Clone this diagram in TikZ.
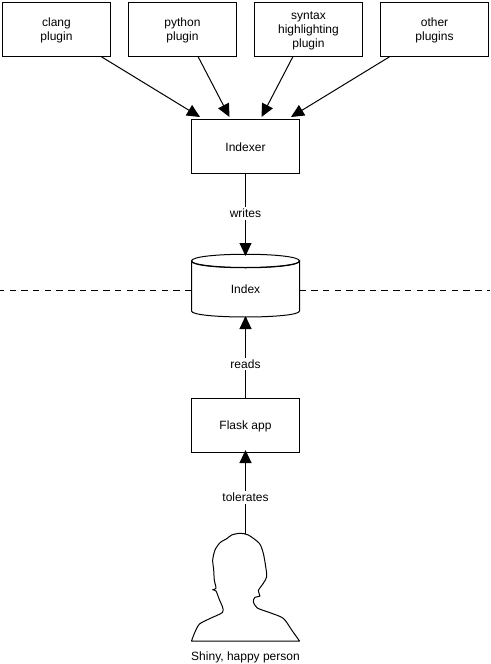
\documentclass[tikz,border=0pt]{standalone}
\usepackage{fontspec}
\setmainfont{Liberation Sans}
\usetikzlibrary{arrows.meta,calc}
\newcommand{\topstrut}[1]{\rule{0pt}{#1pt}}
\tikzset{
  x=1pt,y=-1pt,
  every path/.style={line width=1pt},
  box/.style={draw=black,fill=white,minimum width=108pt,minimum height=54pt,inner sep=0pt,align=center,font=\fontsize{12}{14}\selectfont},
  plain/.style={inner sep=0pt,align=center,font=\fontsize{12}{14}\selectfont},
  elabel/.style={fill=white,inner sep=2pt,font=\fontsize{12}{14}\selectfont},
  conn/.style={draw=black,-{Triangle[length=13pt,width=12pt]}},
  divider/.style={draw=black,dash pattern=on 6.5pt off 5.2pt}
}
\begin{document}
\begin{tikzpicture}
\useasboundingbox (0,0) rectangle (490,664);
\fill[white] (0,0) rectangle (490,664);
\node[box] (clang) at (56.5,29) {\topstrut{11}clang\\plugin};
\node[box] (python) at (182.5,29) {\topstrut{11}python\\plugin};
\node[box] (syntax) at (308.5,29) {\topstrut{12}syntax\\highlighting\\plugin};
\node[box] (other) at (434.5,29) {\topstrut{11}other\\plugins};
\node[box] (indexer) at (245.5,146) {\topstrut{11}Indexer};
\node[box] (flask) at (245.5,425) {\topstrut{11}Flask app};
\node[plain,minimum width=108pt,minimum height=63pt] (index) at (245.5,286) {};
\coordinate (dashL) at (0,290);
\coordinate (dashR) at (490,290);
\coordinate (personTop) at (245.5,533.5);
% dashed divider
\draw[divider] (191.5,290) -- (dashL);
\draw[divider] (299.5,290) -- (dashR);
% cylinder
\draw[fill=white] (191.5,261) arc[start angle=180,end angle=360,x radius=54,y radius=-6.5] -- (299.5,311) .. controls (299.5,319) and (191.5,319) .. (191.5,311) -- cycle;
\draw (191.5,261) .. controls (191.5,252) and (299.5,252) .. (299.5,261) .. controls (299.5,270) and (191.5,270) .. (191.5,261) -- cycle;
\node[plain] at (245.5,289) {Index};
% person
\draw[fill=white,line join=round] (191.5,641)
 -- plot[smooth,tension=0.45] coordinates {
 (191.5,641) (195,632) (199.5,624) (210,618.5) (222.5,612.5) (222.5,607) (219.5,600) (216,591) (212.7,589.7) (216,588.3)
 (214.3,580) (213.7,570) (212.7,560) (215,550) (220,542.7) (226.7,538.7) (231.7,535) (240,533.3) (248.3,535) (259.3,543.3)
 (263.3,553.3) (265.7,566.7) (266.7,576.7) (263.3,583.3) (258.3,590.7) (260,596) (255,597.3) (253.3,601.7) (257.3,608) (270,612.7)
 (283.3,618.3) (291.7,630) (299.5,641)} -- cycle;
\node[plain] (person) at (245.5,657) {Shiny, happy person};
% connectors
\draw[conn] ([xshift=-10pt]clang.south east) -- ([xshift=9pt,yshift=1.5pt]indexer.north west);
\draw[conn] ([xshift=-39pt]python.south east) -- ([xshift=38.5pt,yshift=1.5pt]indexer.north west);
\draw[conn] ([xshift=39pt]syntax.south west) -- ([xshift=-38.5pt,yshift=1.5pt]indexer.north east);
\draw[conn] ([xshift=10pt]other.south west) -- ([xshift=-9pt,yshift=1.5pt]indexer.north east);
\draw[conn] (indexer.south) -- node[elabel,pos=0.48] (writes) {writes} ([yshift=-2pt]index.north);
\draw[conn] (flask.north) -- node[elabel,pos=0.41] (reads) {reads} ([yshift=2pt]index.south);
\draw[conn] (personTop) -- node[elabel,pos=0.43] (tolerates) {tolerates} ([yshift=2.5pt]flask.south);
\end{tikzpicture}
\end{document}
